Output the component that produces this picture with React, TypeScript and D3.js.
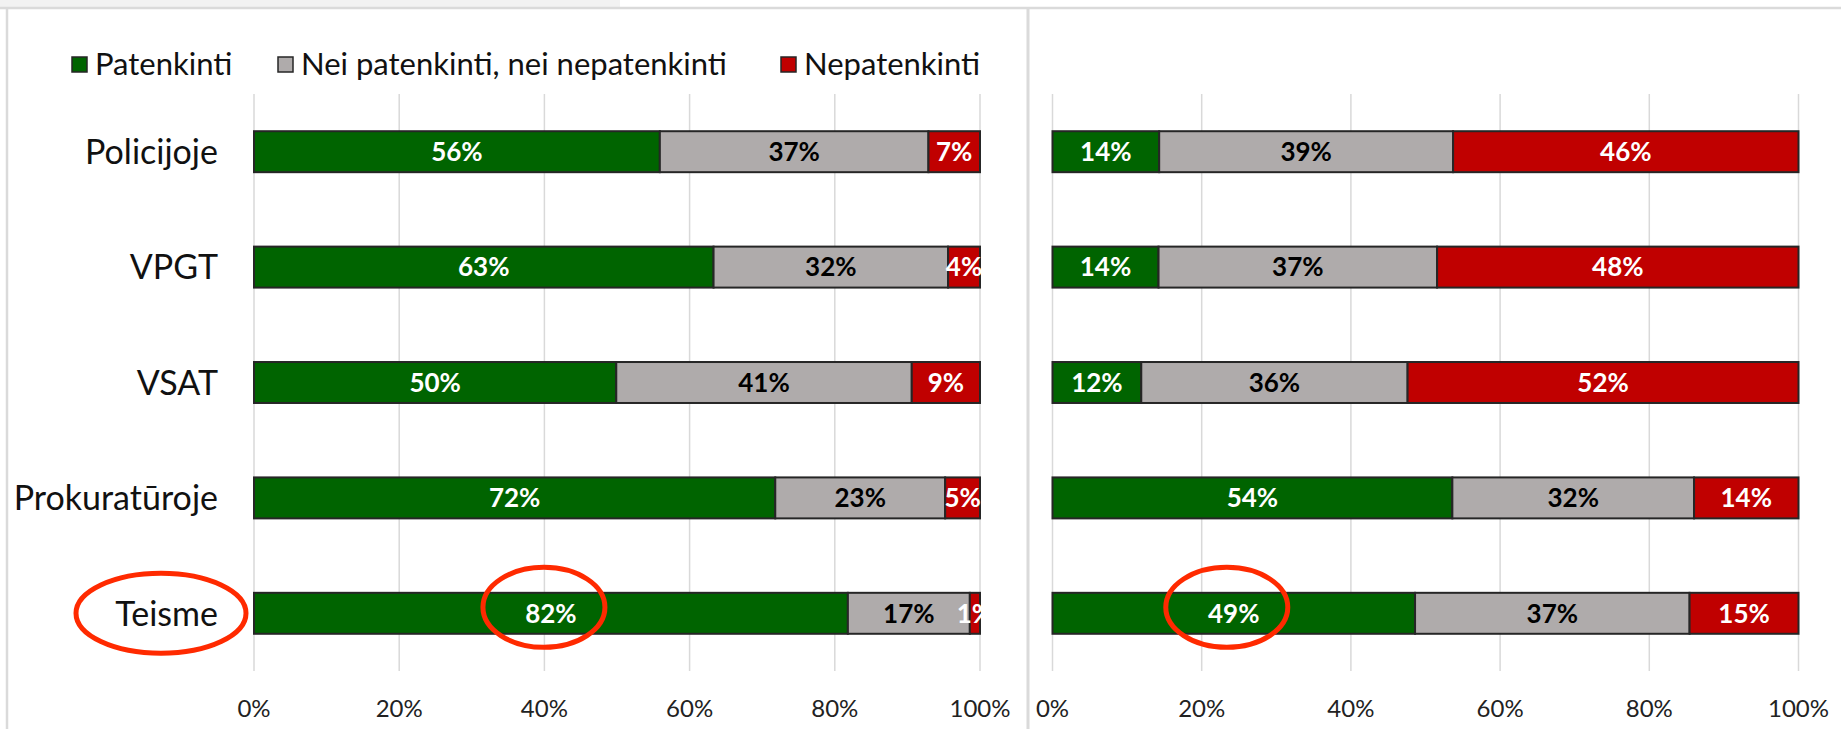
import React from "react";
import * as d3 from "d3";

// ---- data ----
const categories = ["Policijoje", "VPGT", "VSAT", "Prokuratūroje", "Teisme"];
const seriesNames = ["Patenkinti", "Nei patenkinti, nei nepatenkinti", "Nepatenkinti"];
const leftPatenkinti = [55.9, 63.3, 49.9, 71.8, 81.8];
const leftNei = [37.0, 32.3, 40.7, 23.4, 16.8];
const leftNepatenkinti = [7.1, 4.4, 9.4, 4.8, 1.4];
const rightPatenkinti = [14.3, 14.2, 11.9, 53.6, 48.6];
const rightNei = [39.4, 37.3, 35.7, 32.4, 36.8];
const rightNepatenkinti = [46.3, 48.4, 52.4, 14.0, 14.6];
const tickValues = [0, 0.2, 0.4, 0.6, 0.8, 1];
const highlightedCategory = "Teisme";

// ---- style ----
const COLORS = ["#006400", "#AFABAB", "#C00000"];
const LABEL_COLORS = ["#ffffff", "#000000", "#ffffff"];
const FONT = "Lato, 'Open Sans', sans-serif";
const W = 1841;
const H = 729;
const BAND_TOP = 94;
const BAND_BOTTOM = 671;
const ANNOT = "#ff2a00";
const CAT_FS = 34;
const LABEL_FS = 26;

type Row = { category: string; [k: string]: any };

function buildRows(a: number[], b: number[], c: number[]): Row[] {
  return categories.map((cat, i) => ({
    category: cat,
    [seriesNames[0]]: a[i],
    [seriesNames[1]]: b[i],
    [seriesNames[2]]: c[i],
  }));
}

const yScale = d3
  .scaleBand<string>()
  .domain(categories)
  .range([BAND_TOP, BAND_BOTTOM])
  .paddingInner(0.645)
  .paddingOuter(0.3225);

const stacker = d3
  .stack<Row>()
  .keys(seriesNames)
  .offset(d3.stackOffsetExpand);

const fmt = d3.format(".0%");

function Panel(props: {
  id: string;
  rows: Row[];
  x0: number;
  x1: number;
  showCategories: boolean;
}) {
  const { id, rows, x0, x1, showCategories } = props;
  const x = d3.scaleLinear().domain([0, 1]).range([x0, x1]);
  const stacked = stacker(rows);
  const bw = yScale.bandwidth();
  const hlIndex = categories.indexOf(highlightedCategory);
  const hlSeg = stacked[0][hlIndex];
  const hlCx = (x(hlSeg[0]) + x(hlSeg[1])) / 2;
  const hlCy = (yScale(highlightedCategory) as number) + bw / 2;
  return (
    <g>
      <defs>
        <clipPath id={`clip-${id}`}>
          <rect x={x0 - 2} y={BAND_TOP} width={x1 - x0 + 5} height={BAND_BOTTOM - BAND_TOP} />
        </clipPath>
      </defs>
      {tickValues.map((t) => (
        <line
          key={`g${t}`}
          x1={x(t)}
          x2={x(t)}
          y1={BAND_TOP}
          y2={BAND_BOTTOM}
          stroke="#d9d9d9"
          strokeWidth={1.5}
        />
      ))}
      {tickValues.map((t) => (
        <text
          key={`t${t}`}
          x={x(t)}
          y={717}
          textAnchor="middle"
          fontFamily={FONT}
          fontSize={24}
          fill="#222"
        >
          {fmt(t)}
        </text>
      ))}
      {stacked.map((s, si) =>
        s.map((seg, ci) => (
          <rect
            key={`r${si}-${ci}`}
            x={x(seg[0])}
            y={yScale(categories[ci]) as number}
            width={x(seg[1]) - x(seg[0])}
            height={bw}
            fill={COLORS[si]}
            stroke="#262626"
            strokeWidth={2}
          />
        ))
      )}
      <g clipPath={`url(#clip-${id})`}>
        {stacked.map((s, si) =>
          s.map((seg, ci) => {
            const raw = rows[ci][seriesNames[si]] as number;
            const cy = (yScale(categories[ci]) as number) + bw / 2;
            return (
              <text
                key={`l${si}-${ci}`}
                x={(x(seg[0]) + x(seg[1])) / 2}
                y={cy + 0.36 * LABEL_FS}
                textAnchor="middle"
                fontFamily={FONT}
                fontWeight="bold"
                fontSize={LABEL_FS}
                fill={LABEL_COLORS[si]}
              >
                {Math.round(raw) + "%"}
              </text>
            );
          })
        )}
      </g>
      {showCategories &&
        categories.map((c) => (
          <text
            key={`c${c}`}
            x={x0 - 36}
            y={(yScale(c) as number) + bw / 2 + 0.36 * CAT_FS}
            textAnchor="end"
            fontFamily={FONT}
            fontSize={CAT_FS}
            fill="#111"
          >
            {c}
          </text>
        ))}
      {showCategories && (
        <ellipse
          cx={x0 - 36 - 57}
          cy={hlCy}
          rx={85}
          ry={40}
          fill="none"
          stroke={ANNOT}
          strokeWidth={5}
        />
      )}
      <ellipse
        cx={hlCx - 7}
        cy={hlCy - 6}
        rx={61}
        ry={40}
        fill="none"
        stroke={ANNOT}
        strokeWidth={5}
      />
    </g>
  );
}

function Legend() {
  const xs = [72, 278, 781];
  return (
    <g>
      {seriesNames.map((n, i) => (
        <g key={n}>
          <rect
            x={xs[i]}
            y={57}
            width={15}
            height={15}
            fill={COLORS[i]}
            stroke="#262626"
            strokeWidth={1.5}
          />
          <text x={xs[i] + 23} y={75} fontFamily={FONT} fontSize={31} fill="#111">
            {n}
          </text>
        </g>
      ))}
    </g>
  );
}

export default function App() {
  const leftRows = buildRows(leftPatenkinti, leftNei, leftNepatenkinti);
  const rightRows = buildRows(rightPatenkinti, rightNei, rightNepatenkinti);
  return (
    <div style={{ position: "absolute", left: 0, top: 0 }}>
      <svg width={W} height={H} style={{ display: "block", background: "#fff" }}>
        <rect x={0} y={0} width={620} height={7} fill="#f2f2f2" />
        <line x1={0} x2={W} y1={8} y2={8} stroke="#dadada" strokeWidth={2.5} />
        <line x1={7} x2={7} y1={8} y2={H} stroke="#dadada" strokeWidth={2.5} />
        <line x1={1028} x2={1028} y1={8} y2={H} stroke="#dadada" strokeWidth={3} />
        <Legend />
        <Panel id="left" rows={leftRows} x0={254} x1={980} showCategories={true} />
        <Panel id="right" rows={rightRows} x0={1052.5} x1={1798.5} showCategories={false} />
      </svg>
    </div>
  );
}
